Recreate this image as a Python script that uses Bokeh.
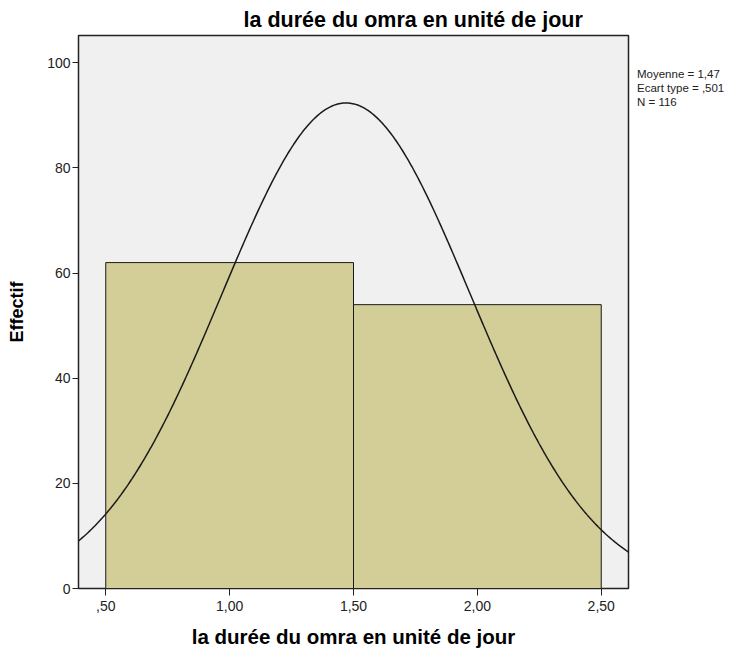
import numpy as np
from bokeh.plotting import figure
from bokeh.models import FixedTicker, Range1d, Legend, LegendItem
from bokeh.embed import file_html
from bokeh.resources import INLINE

# ---- data ----
bin_left = [0.5, 1.5]
bin_right = [1.5, 2.5]
counts = [62, 54]
x_ticks = [0.5, 1.0, 1.5, 2.0, 2.5]
x_tick_labels = [",50", "1,00", "1,50", "2,00", "2,50"]
y_ticks = [0, 20, 40, 60, 80, 100]
mean = 1.47
std = 0.501
n_obs = 116
bin_width = 1.0
stats_lines = ["Moyenne = 1,47", "Ecart type = ,501", "N = 116"]
title_text = "la durée du omra en unité de jour"
x_label_text = "la durée du omra en unité de jour"
y_label_text = "Effectif"

FONT = "Liberation Sans"
X0, X1 = 0.39, 2.61
Y0, Y1 = 0, 105.2

p = figure(frame_width=550, frame_height=553,
           x_range=Range1d(X0, X1), y_range=Range1d(Y0, Y1),
           output_backend="svg", toolbar_location=None,
           min_border_left=78, min_border_right=120,
           min_border_top=35, min_border_bottom=63)

p.background_fill_color = "#f0f0f0"
p.border_fill_color = "white"
p.outline_line_color = "#222222"
p.outline_line_width = 1.5
p.xgrid.visible = False
p.ygrid.visible = False

# title
p.title.text = title_text
p.title.align = "left"
p.title.offset = 165
p.title.standoff = 7
p.title.text_font = FONT
p.title.text_font_size = "21.5px"
p.title.text_font_style = "bold"
p.title.text_color = "black"

# bars
p.quad(left=bin_left, right=bin_right, bottom=0, top=counts,
       fill_color="#d3ce97", line_color="#1a1a1a", line_width=1)

# normal curve from the stated statistics
xs = np.linspace(X0, X1, 400)
ys = n_obs * bin_width / (std * np.sqrt(2 * np.pi)) * np.exp(-0.5 * ((xs - mean) / std) ** 2)
p.line(xs, ys, line_color="#1a1a1a", line_width=1.5)

# axes
p.xaxis.ticker = FixedTicker(ticks=x_ticks)
p.xaxis.major_label_overrides = {t: l for t, l in zip(x_ticks, x_tick_labels)}
p.yaxis.ticker = FixedTicker(ticks=y_ticks)
for ax in (p.xaxis[0], p.yaxis[0]):
    ax.minor_tick_line_color = None
    ax.major_tick_in = 0
    ax.axis_line_color = "#222222"
    ax.major_tick_line_color = "#222222"
    ax.major_label_text_font = FONT
    ax.major_label_text_font_size = "14px"
    ax.major_label_text_color = "#222222"
    ax.axis_label_text_font = FONT
    ax.axis_label_text_font_style = "bold"
    ax.axis_label_text_color = "black"
p.xaxis.major_tick_out = 7
p.xaxis.major_label_standoff = 5
p.yaxis.major_tick_out = 6
p.yaxis.major_label_standoff = 2

p.xaxis.axis_label = x_label_text
p.xaxis.axis_label_text_font_size = "20.5px"
p.xaxis.axis_label_standoff = 11

p.yaxis.axis_label = y_label_text
p.yaxis.axis_label_text_font_size = "18px"
p.yaxis.axis_label_standoff = 17

# statistics box (legend without glyphs)
dummy = p.line(x=[], y=[], line_alpha=0)
stats_legend = Legend(items=[LegendItem(label=s, renderers=[dummy]) for s in stats_lines],
                      location=(9, 480), orientation="vertical",
                      glyph_width=0, glyph_height=1, label_standoff=0,
                      padding=0, margin=0, spacing=2, label_height=10,
                      border_line_color=None, background_fill_alpha=0,
                      label_text_font=FONT, label_text_font_size="11.5px",
                      label_text_color="#222222")
p.add_layout(stats_legend, "right")

open("out.html", "w").write(file_html(p, INLINE))
